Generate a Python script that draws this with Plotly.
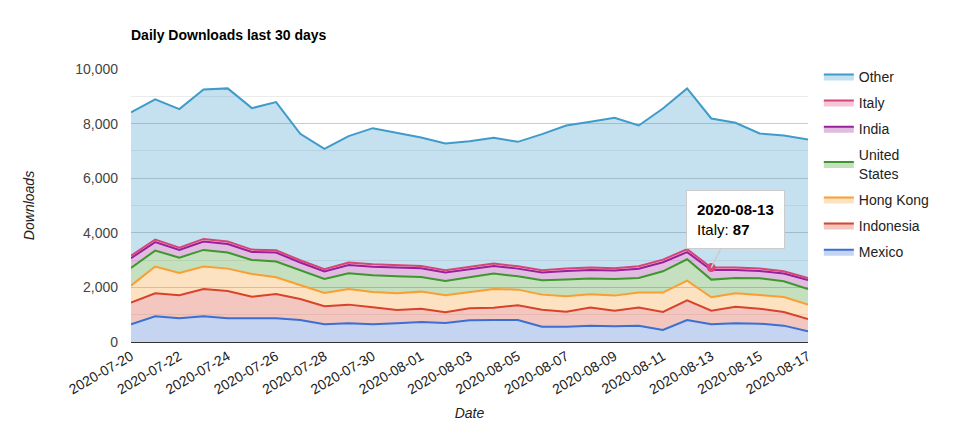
import plotly.graph_objects as go

dates = ["2020-07-20", "2020-07-21", "2020-07-22", "2020-07-23", "2020-07-24", "2020-07-25",
         "2020-07-26", "2020-07-27", "2020-07-28", "2020-07-29", "2020-07-30", "2020-07-31",
         "2020-08-01", "2020-08-02", "2020-08-03", "2020-08-04", "2020-08-05", "2020-08-06",
         "2020-08-07", "2020-08-08", "2020-08-09", "2020-08-10", "2020-08-11", "2020-08-12",
         "2020-08-13", "2020-08-14", "2020-08-15", "2020-08-16", "2020-08-17"]

mexico = [650, 940, 868, 941, 868, 868, 868, 807, 648, 684, 648, 684, 733, 697, 794,
          807, 807, 562, 562, 599, 574, 599, 440, 807, 648, 684, 672, 599, 391]
indonesia = [790, 845, 843, 1002, 1002, 794, 892, 769, 660, 685, 623, 489, 489, 391, 440,
             452, 537, 623, 550, 660, 575, 660, 660, 721, 501, 611, 550, 501, 452]
hong_kong = [625, 978, 819, 819, 818, 831, 611, 501, 488, 574, 562, 611, 623, 623, 599,
             684, 574, 550, 562, 488, 550, 550, 709, 720, 488, 489, 501, 550, 526]
united_states = [650, 586, 562, 611, 587, 513, 574, 550, 514, 574, 611, 623, 538, 525, 538,
                 562, 489, 526, 611, 575, 611, 537, 781, 782, 648, 562, 611, 574, 574]
india = [355, 309, 276, 308, 311, 291, 331, 287, 276, 306, 315, 322, 317, 311, 295,
         277, 281, 287, 320, 318, 306, 340, 333, 262, 353, 293, 270, 284, 325]
italy = [90, 95, 90, 95, 92, 88, 85, 80, 78, 85, 88, 82, 86, 80, 84,
         90, 86, 79, 83, 85, 84, 88, 95, 105, 87, 86, 84, 82, 78]
other = [5250, 5133, 5072, 5475, 5612, 5182, 5426, 4632, 4411, 4632, 4986, 4839, 4705, 4644, 4607,
         4607, 4558, 4986, 5243, 5340, 5512, 5157, 5536, 5890, 5462, 5304, 4950, 4974, 5072]

series = [
    ("Mexico", mexico, "#3b6fd1", "rgba(59,111,209,0.3)"),
    ("Indonesia", indonesia, "#d8432a", "rgba(216,67,42,0.3)"),
    ("Hong Kong", hong_kong, "#f99f32", "rgba(249,159,50,0.3)"),
    ("United<br>States", united_states, "#3c982c", "rgba(60,152,44,0.3)"),
    ("India", india, "#97209d", "rgba(151,32,157,0.3)"),
    ("Italy", italy, "#d5457a", "rgba(213,69,122,0.3)"),
    ("Other", other, "#3f9bc9", "rgba(63,155,201,0.3)"),
]

fig = go.Figure()
for i, (name, vals, line_col, fill_col) in enumerate(series):
    fig.add_trace(go.Scatter(
        x=dates, y=vals, name=name, legendgroup=name, legendrank=100 - i,
        mode="lines", stackgroup="one",
        line=dict(color=line_col, width=2), fillcolor=fill_col,
    ))

# highlighted point (tooltip) for Italy on 2020-08-13
hi = dates.index("2020-08-13")
italy_top = mexico[hi] + indonesia[hi] + hong_kong[hi] + united_states[hi] + india[hi] + italy[hi]
fig.add_trace(go.Scatter(
    x=[dates[hi]], y=[italy_top], mode="markers", showlegend=False,
    marker=dict(color="#d5457a", size=9),
))
fig.add_annotation(
    x=dates[hi], y=italy_top, ax=24, ay=-48,
    text="<b>2020-08-13</b><br>Italy: <b>%d</b>" % italy[hi],
    showarrow=True, arrowhead=0, arrowcolor="#cccccc", arrowwidth=1.5,
    bgcolor="white", bordercolor="#cccccc", borderwidth=1, borderpad=10,
    align="left", font=dict(size=15, color="#000000"),
)

# page body adds 8px offset, so margins are shifted by 8px
fig.update_layout(
    width=959, height=440,
    margin=dict(l=123, r=159, t=61, b=106),
    paper_bgcolor="white", plot_bgcolor="white",
    font=dict(family="Liberation Sans, Arial, sans-serif", color="#222222"),
    title=dict(text="<b>Daily Downloads last 30 days</b>", x=123 / 959, xanchor="left",
               y=1 - 27 / 440, yanchor="middle", font=dict(size=14, color="#000000")),
    showlegend=True,
    legend=dict(traceorder="grouped", x=1.016, xanchor="left", y=1.03, yanchor="top",
                font=dict(size=14, color="#222222"), tracegroupgap=5),
)
fig.update_xaxes(
    type="date", range=["2020-07-20", "2020-08-17"],
    tick0="2020-07-20", dtick=2 * 86400000, tickformat="%Y-%m-%d",
    tickangle=-30, tickfont=dict(size=14, color="#222222"),
    showgrid=False, showline=True, linecolor="#333333", linewidth=1, ticks="",
    title=dict(text="<i>Date</i>", font=dict(size=14, color="#222222"), standoff=11),
)
fig.update_yaxes(
    range=[0, 10000], dtick=2000, tickformat=",", tickfont=dict(size=14, color="#444444"),
    ticklabelstandoff=12,
    gridcolor="#cccccc", zeroline=False,
    minor=dict(dtick=1000, showgrid=True, gridcolor="#ebebeb"),
    title=dict(text="<i>Downloads</i>", font=dict(size=14, color="#222222"), standoff=37),
)

fig.write_html("out.html")
